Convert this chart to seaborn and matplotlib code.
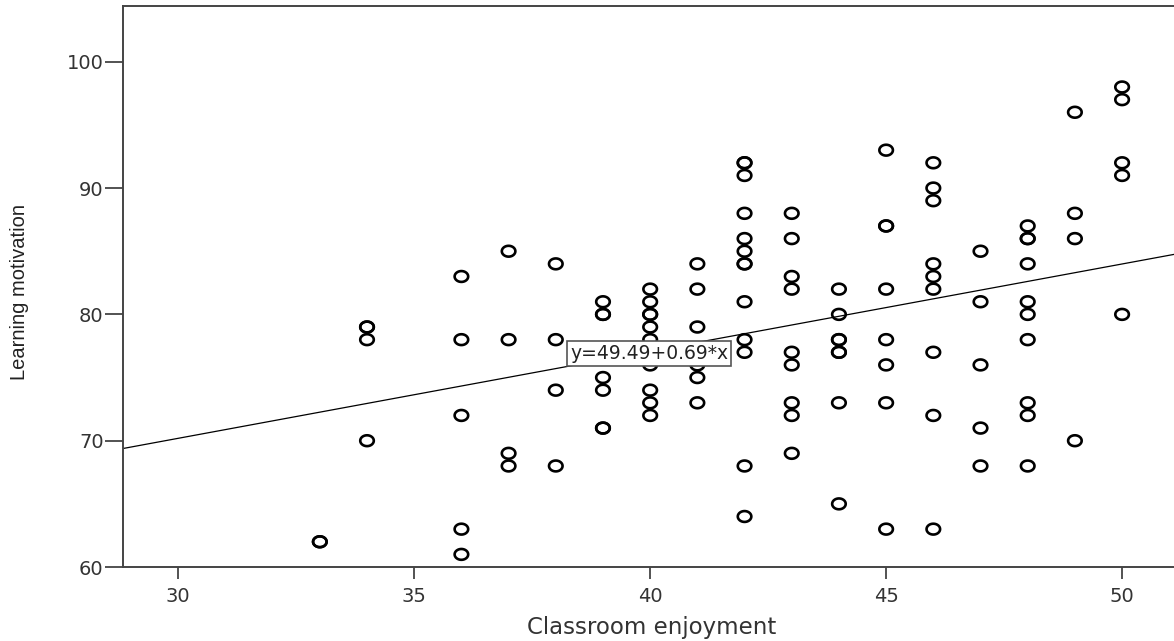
import numpy as np
import pandas as pd
import matplotlib
matplotlib.use("Agg")
import matplotlib.pyplot as plt
from matplotlib.path import Path
import seaborn as sns

# valeurs (x = plaisir en classe, y = motivation)
enjoyment = [33, 33,
             34, 34, 34, 34,
             36, 36, 36, 36, 36,
             37, 37, 37, 37,
             38, 38, 38, 38,
             39, 39, 39, 39, 39, 39, 39,
             40, 40, 40, 40, 40, 40, 40, 40, 40, 40,
             41, 41, 41, 41, 41, 41,
             42, 42, 42, 42, 42, 42, 42, 42, 42, 42, 42, 42, 42,
             43, 43, 43, 43, 43, 43, 43, 43, 43,
             44, 44, 44, 44, 44, 44, 44, 44,
             45, 45, 45, 45, 45, 45, 45, 45,
             46, 46, 46, 46, 46, 46, 46, 46, 46,
             47, 47, 47, 47, 47,
             48, 48, 48, 48, 48, 48, 48, 48, 48, 48,
             49, 49, 49, 49,
             50, 50, 50, 50, 50]
motivation = [62, 62,
              79, 79, 78, 70,
              83, 78, 72, 63, 61,
              85, 78, 69, 68,
              84, 78, 74, 68,
              81, 80, 80, 75, 74, 71, 71,
              82, 81, 80, 80, 79, 78, 76, 74, 73, 72,
              84, 82, 79, 76, 75, 73,
              92, 92, 91, 88, 86, 85, 84, 84, 81, 78, 77, 68, 64,
              88, 86, 83, 82, 77, 76, 73, 72, 69,
              82, 80, 78, 78, 77, 77, 73, 65,
              93, 87, 87, 82, 78, 76, 73, 63,
              92, 90, 89, 84, 83, 82, 77, 72, 63,
              85, 81, 76, 71, 68,
              87, 86, 86, 84, 81, 80, 78, 73, 72, 68,
              96, 88, 86, 70,
              98, 97, 92, 91, 80]

intercept = 49.49
slope = 0.69
y_ticks = [60, 70, 80, 90, 100]
x_ticks = [30, 35, 40, 45, 50]

df = pd.DataFrame({"Classroom enjoyment": enjoyment,
                   "Learning motivation": motivation})

sns.set_style("white")
plt.rcParams["font.family"] = ["DejaVu Sans"]

# marqueur en ellipse (un peu plus large que haut)
t = np.linspace(0, 2 * np.pi, 60)
ellipse = Path(np.column_stack([0.5 * np.cos(t), 0.4 * np.sin(t)]), closed=True)

fig = plt.figure(figsize=(11.74, 6.41), dpi=100)
ax = fig.add_axes([0.1048, 0.1154, 0.8952, 0.875])

sns.scatterplot(data=df, x="Classroom enjoyment", y="Learning motivation",
                marker=ellipse, s=95, facecolor="none", edgecolor="black",
                linewidth=1.9, ax=ax, zorder=3)

x_min, x_max = 28.83, 51.1
ax.set_xlim(x_min, x_max)
ax.set_ylim(60, 104.4)

xs = np.array([x_min, x_max])
ax.plot(xs, intercept + slope * xs, color="black", linewidth=0.9, zorder=2)

# étiquette de l'équation
ax.text(38.3, 76.9, f"y={intercept:.2f}+{slope:.2f}*x", fontsize=13.5, va="center",
        ha="left", zorder=5, color="#222222",
        bbox=dict(boxstyle="square,pad=0.15", facecolor="white", edgecolor="#555555",
                  linewidth=1.2))

ax.set_xticks(x_ticks)
ax.set_yticks(y_ticks)
ax.tick_params(axis="x", direction="out", length=8.5, width=1.3, color="#444444",
               labelsize=14, pad=6, labelcolor="#333333", bottom=True)
ax.tick_params(axis="y", direction="out", length=13, width=1.3, color="#444444",
               labelsize=14, pad=1, labelcolor="#333333", left=True)

for cote in ["left", "bottom", "top"]:
    ax.spines[cote].set_color("#444444")
    ax.spines[cote].set_linewidth(1.4)
ax.spines["right"].set_visible(False)

ax.set_xlabel("Classroom enjoyment", fontsize=16.5, color="#333333")
ax.set_ylabel("Learning motivation", fontsize=14.5, color="#222222",
              family="Liberation Sans")
ax.xaxis.set_label_coords(0.503, -0.088)
ax.yaxis.set_label_coords(-0.089, 0.49)

fig.savefig("out.png", dpi=100)
